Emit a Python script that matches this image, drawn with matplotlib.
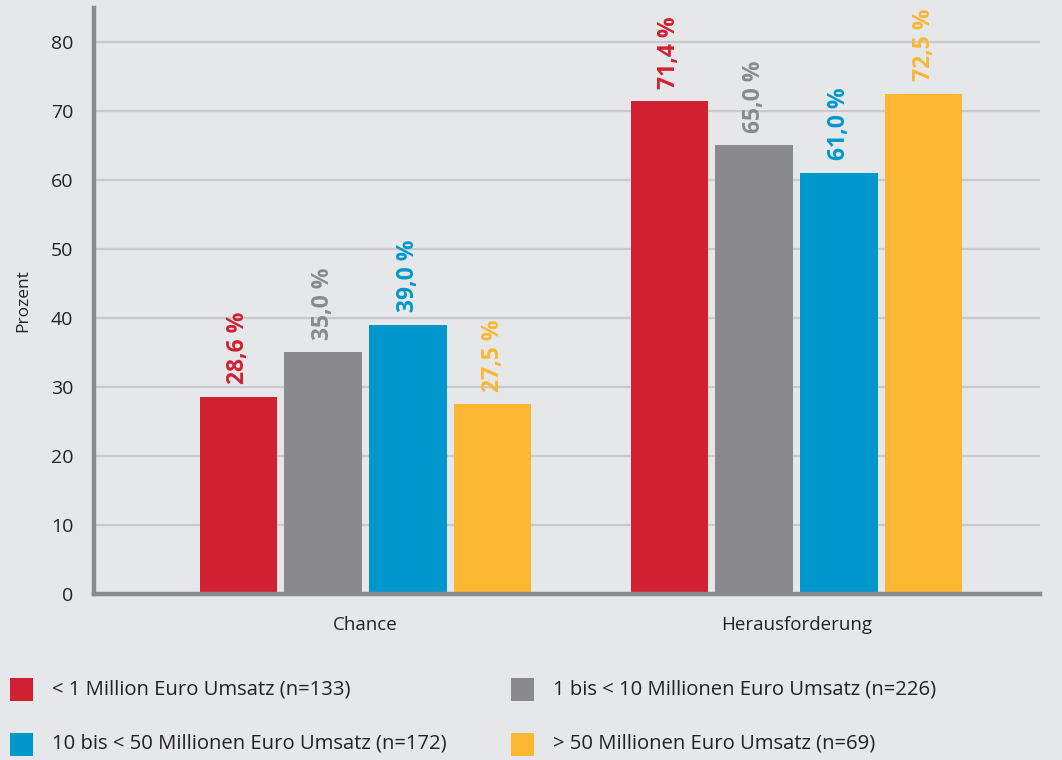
import matplotlib
matplotlib.use('Agg')
import matplotlib.pyplot as plt
from matplotlib.patches import Rectangle
import numpy as np

# ── data ─────────────────────────────────────────────────────────────────────
categories = ['Chance', 'Herausforderung']
series_labels = ['< 1 Million Euro Umsatz (n=133)',
                 '1 bis < 10 Millionen Euro Umsatz (n=226)',
                 '10 bis < 50 Millionen Euro Umsatz (n=172)',
                 '> 50 Millionen Euro Umsatz (n=69)']
under_1 = [28.6, 71.4]
from_1_to_10 = [35.0, 65.0]
from_10_to_50 = [39.0, 61.0]
over_50 = [27.5, 72.5]
series = [under_1, from_1_to_10, from_10_to_50, over_50]

COLORS = ['#d12031', '#8a8a8d', '#0098cc', '#fcb732']
BG = '#e6e7e9'
AXIS = '#8a8b8d'

plt.rcParams.update({'font.family': ['Open Sans', 'DejaVu Sans'], 'font.size': 13})

fig = plt.figure(figsize=(10.62, 7.6), dpi=100, facecolor=BG)
ax = fig.add_axes([94/1062, 1 - 594/760, (1040 - 94)/1062, (594 - 8)/760])
ax.set_facecolor(BG)

x = np.arange(len(categories))
width, step = 0.179, 0.197
for i, (vals, col) in enumerate(zip(series, COLORS)):
    pos = x + (i - 1.5) * step
    ax.bar(pos, vals, width, color=col, zorder=3)
    for px_, v in zip(pos, vals):
        ax.annotate(f'{v:.1f} %'.replace('.', ','), (px_, v), textcoords='offset points',
                    xytext=(0, 9), ha='center', va='bottom', rotation=90,
                    color=col, fontsize=16.5, fontweight='bold')

ax.set_xlim(-0.63, 1.565)
ax.set_ylim(0, 84.9)
ax.set_yticks(range(0, 90, 10))
ax.set_xticks(x)
ax.set_xticklabels(categories, fontsize=13.5, color='#222222')
ax.tick_params(axis='both', length=0, labelsize=13.5, colors='#222222')
ax.tick_params(axis='y', pad=15, labelsize=14)
ax.tick_params(axis='x', pad=16)
ax.yaxis.grid(True, color='#c9cacc', linewidth=1.6, zorder=0)
ax.set_axisbelow(True)
ax.set_ylabel('Prozent', fontsize=12.5, color='#222222', labelpad=14)

for s in ['top', 'right']:
    ax.spines[s].set_visible(False)
for s in ['left', 'bottom']:
    ax.spines[s].set_color(AXIS)
    ax.spines[s].set_linewidth(3.2)
    ax.spines[s].set_zorder(4)

# legend laid out as in the original: two rows, two columns
legend_pos = [(10, 689), (511, 689), (10, 744), (511, 744)]
for (lx, ly), lab, col in zip(legend_pos, series_labels, COLORS):
    fig.add_artist(Rectangle((lx/1062, 1 - (ly + 11.5)/760), 23/1062, 23/760,
                             transform=fig.transFigure, color=col, lw=0))
    fig.text((lx + 42)/1062, 1 - ly/760, lab, ha='left', va='center',
             fontsize=14.6, color='#222222')

plt.savefig('out.png', dpi=100, facecolor=BG)
plt.close()
